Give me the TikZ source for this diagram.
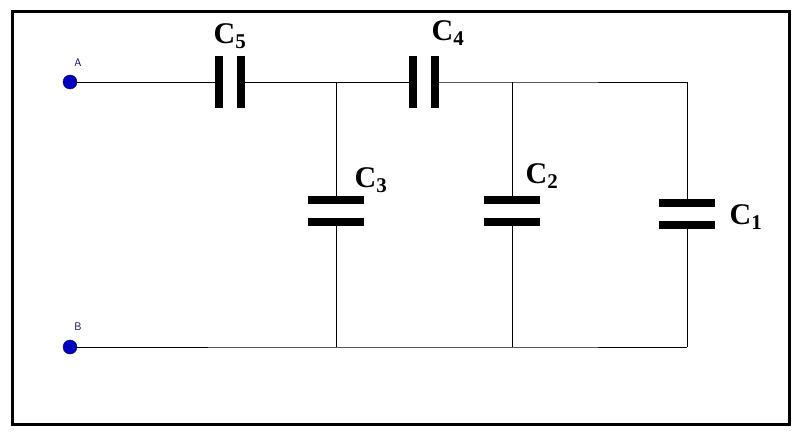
\documentclass[tikz,border=0pt]{standalone}
\usepackage{fontspec}
\setmainfont{Liberation Serif}
\begin{document}
\begin{tikzpicture}[x=1pt,y=-1pt,
  wire/.style={line width=1pt},
  plate/.style={line width=8pt},
  term/.style={circle,fill=blue!75!black,draw=blue!40!black,inner sep=0pt,minimum size=14pt},
  tlab/.style={font=\sffamily\fontsize{11}{12}\selectfont,text=blue!40!black},
  clab/.style={font=\bfseries\fontsize{30}{32}\selectfont}]
\useasboundingbox (0,0) rectangle (800,436);
\draw[line width=3pt] (12,12) rectangle (789,424);
\node[term] (A) at (70,82) {};
\node[term] (B) at (70,347) {};
\node[tlab] at (78,63) {A};
\node[tlab] at (78,327) {B};
\coordinate (J1) at (336,82); \coordinate (J2) at (512,82); \coordinate (J3) at (687,82);
\coordinate (K1) at (336,347); \coordinate (K2) at (512,347); \coordinate (K3) at (687,347);
% C5
\coordinate (c5a) at (219,82); \coordinate (c5b) at (241,82);
\draw[wire] (A) -- (c5a); \draw[wire] (c5b) -- (J1);
\draw[plate] (219,56) -- (219,108); \draw[plate] (241,56) -- (241,108);
% C4
\coordinate (c4a) at (413,82); \coordinate (c4b) at (435,82);
\draw[wire] (J1) -- (c4a); \draw[wire] (c4b) -- (J2) -- (J3);
\draw[plate] (413,56) -- (413,108); \draw[plate] (435,56) -- (435,108);
% verticals
\foreach \x/\ya/\yb in {336/200/222, 512/200/222, 687/203/225}{
  \draw[wire] (\x,82) -- (\x,\ya); \draw[wire] (\x,\yb) -- (\x,347);
  \draw[plate] (\x-28,\ya) -- (\x+28,\ya); \draw[plate] (\x-28,\yb) -- (\x+28,\yb);
}
\draw[wire] (B) -- (K1) -- (K2) -- (K3);
\node[clab] at (230,36) {C\textsubscript{5}};
\node[clab] at (448,33) {C\textsubscript{4}};
\node[clab] at (371,180) {C\textsubscript{3}};
\node[clab] at (542,176) {C\textsubscript{2}};
\node[clab] at (746,217) {C\textsubscript{1}};
\end{tikzpicture}
\end{document}
